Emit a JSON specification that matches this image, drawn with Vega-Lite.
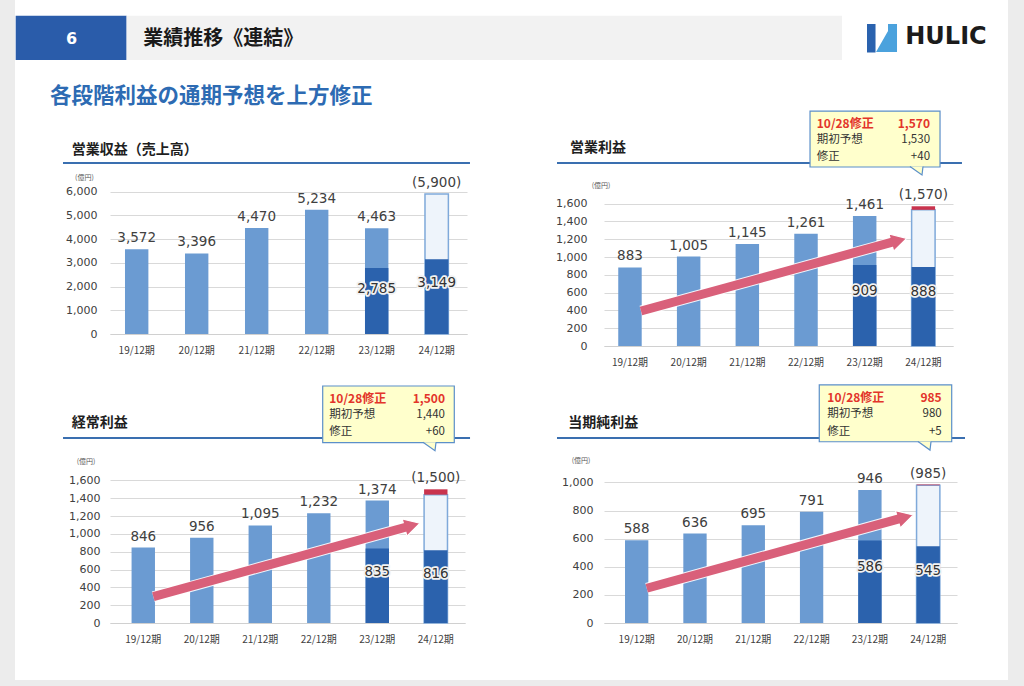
{
  "$schema": "https://vega.github.io/schema/vega-lite/v6.json",
  "background": "white",
  "padding": 0,
  "bounds": "flush",
  "columns": 2,
  "spacing": {"row": 92, "column": 137},
  "datasets": {
    "rev": [
      {"period": "19/12期", "value": 3572},
      {"period": "20/12期", "value": 3396},
      {"period": "21/12期", "value": 4470},
      {"period": "22/12期", "value": 5234},
      {"period": "23/12期", "value": 4463, "h1": 2785},
      {"period": "24/12期", "h1": 3149, "initial": 5900, "revised": 5900}
    ],
    "op": [
      {"period": "19/12期", "value": 883},
      {"period": "20/12期", "value": 1005},
      {"period": "21/12期", "value": 1145},
      {"period": "22/12期", "value": 1261},
      {"period": "23/12期", "value": 1461, "h1": 909},
      {"period": "24/12期", "h1": 888, "initial": 1530, "revised": 1570}
    ],
    "ord": [
      {"period": "19/12期", "value": 846},
      {"period": "20/12期", "value": 956},
      {"period": "21/12期", "value": 1095},
      {"period": "22/12期", "value": 1232},
      {"period": "23/12期", "value": 1374, "h1": 835},
      {"period": "24/12期", "h1": 816, "initial": 1440, "revised": 1500}
    ],
    "net": [
      {"period": "19/12期", "value": 588},
      {"period": "20/12期", "value": 636},
      {"period": "21/12期", "value": 695},
      {"period": "22/12期", "value": 791},
      {"period": "23/12期", "value": 946, "h1": 586},
      {"period": "24/12期", "h1": 545, "initial": 980, "revised": 985}
    ],
    "d1": [
      {"kind": "strip", "u": -1.8487, "u2": -1.5966, "v": 14082, "v2": -14841},
      {"kind": "strip", "u": 15.092, "u2": 15.361, "v": 14082, "v2": -14841},
      {"kind": "strip", "u": -1.8487, "u2": 15.361, "v": -14588, "v2": -14841},
      {"kind": "hbox", "u": -1.585, "u2": 0.279, "v": 13421, "v2": 11553},
      {"kind": "hbar", "u": 0.279, "u2": 12.303, "v": 13421, "v2": 11553},
      {"kind": "num", "u": -0.644, "v": 12440, "text": "6"},
      {"kind": "htitle", "u": 0.56, "v": 12440, "text": "業績推移《連結》"},
      {"kind": "sub", "u": -1.008, "v": 10005, "text": "各段階利益の通期予想を上方修正"},
      {"kind": "logo", "u": 13.366, "v": 12522, "text": "HULIC"},
      {"kind": "icon1", "u": 12.723, "u2": 12.866, "v": 13071, "v2": 11869},
      {"kind": "icon2", "u": 12.975, "v": 12480},
      {"kind": "line", "u": -0.79, "u2": 6.05, "v": 7210},
      {"kind": "title", "u": -0.644, "v": 7758, "text": "営業収益（売上高）"},
      {"kind": "unit", "u": -0.588, "v": 6590, "text": "(億円)"}
    ],
    "d2": [
      {"kind": "line", "u": -0.808, "u2": 6.154, "v": 2056.2},
      {"kind": "title", "u": -0.585, "v": 2225, "text": "営業利益"},
      {"kind": "unit", "u": -0.211, "v": 1801, "text": "(億円)"},
      {"kind": "arrow", "u": 0.636, "v": 393, "u2": 4.972, "v2": 1169},
      {"kind": "head", "u": 5.204, "v": 1210},
      {"kind": "box", "u": 3.542, "u2": 5.777, "v": 2640, "v2": 2011},
      {"kind": "tail", "u": 5.467, "v": 1921},
      {"kind": "lhead", "u": 3.657, "v": 2494, "text": "10/28修正"},
      {"kind": "rhead", "u": 5.605, "v": 2494, "text": "1,570"},
      {"kind": "ltext", "u": 3.657, "v": 2315, "text": "期初予想"},
      {"kind": "rtext", "u": 5.605, "v": 2315, "text": "1,530"},
      {"kind": "ltext", "u": 3.657, "v": 2127, "text": "修正"},
      {"kind": "rtext", "u": 5.605, "v": 2127, "text": "+40"}
    ],
    "d3": [
      {"kind": "line", "u": -0.794, "u2": 6.085, "v": 2075.7},
      {"kind": "title", "u": -0.647, "v": 2247, "text": "経常利益"},
      {"kind": "unit", "u": -0.563, "v": 1810, "text": "(億円)"},
      {"kind": "arrow", "u": 0.732, "v": 295, "u2": 5.011, "v2": 1077},
      {"kind": "head", "u": 5.239, "v": 1119},
      {"kind": "box", "u": 3.595, "u2": 5.819, "v": 2659, "v2": 2023},
      {"kind": "tail", "u": 5.493, "v": 1933},
      {"kind": "lhead", "u": 3.706, "v": 2513, "text": "10/28修正"},
      {"kind": "rhead", "u": 5.662, "v": 2513, "text": "1,500"},
      {"kind": "ltext", "u": 3.706, "v": 2334, "text": "期初予想"},
      {"kind": "rtext", "u": 5.662, "v": 2334, "text": "1,440"},
      {"kind": "ltext", "u": 3.706, "v": 2146, "text": "修正"},
      {"kind": "rtext", "u": 5.662, "v": 2146, "text": "+60"}
    ],
    "d4": [
      {"kind": "line", "u": -0.799, "u2": 6.136, "v": 1315.8},
      {"kind": "title", "u": -0.607, "v": 1420, "text": "当期純利益"},
      {"kind": "unit", "u": -0.549, "v": 1152, "text": "(億円)"},
      {"kind": "arrow", "u": 0.726, "v": 247, "u2": 5.028, "v2": 742},
      {"kind": "head", "u": 5.257, "v": 768},
      {"kind": "box", "u": 3.659, "u2": 5.91, "v": 1693, "v2": 1289},
      {"kind": "tail", "u": 5.541, "v": 1230},
      {"kind": "lhead", "u": 3.796, "v": 1598, "text": "10/28修正"},
      {"kind": "rhead", "u": 5.74, "v": 1598, "text": "985"},
      {"kind": "ltext", "u": 3.796, "v": 1484, "text": "期初予想"},
      {"kind": "rtext", "u": 5.74, "v": 1484, "text": "980"},
      {"kind": "ltext", "u": 3.796, "v": 1361, "text": "修正"},
      {"kind": "rtext", "u": 5.74, "v": 1361, "text": "+5"}
    ]
  },
  "concat": [
    {
      "width": 357, "height": 171,
      "layer": [
        {
          "data": {"name": "rev"},
          "transform": [
            {"calculate": "isValid(datum.value) ? format(datum.value, ',') : '(' + format(datum.revised, ',') + ')'", "as": "toplabel"},
            {"calculate": "isValid(datum.value) ? datum.value : datum.revised", "as": "toppos"},
            {"calculate": "isValid(datum.h1) ? format(datum.h1, ',') : ''", "as": "h1label"},
            {"calculate": "isValid(datum.h1) ? datum.h1 * 0.68 : null", "as": "h1pos"}
          ],
          "encoding": {
            "x": {"field": "period", "type": "ordinal", "sort": null,
              "scale": {"type": "band", "paddingInner": 0.61, "paddingOuter": 0.28, "align": 0.446},
              "axis": {"title": null, "labelAngle": 0, "ticks": false, "domainColor": "#d0d0d0", "labelPadding": 11, "labelFontSize": 10, "labelFont": "Noto Sans CJK JP", "labelColor": "#404040", "grid": false}}
          },
          "layer": [
            {"transform": [{"filter": "isValid(datum.value)"}], "mark": {"type": "bar", "color": "#6b9bd2"},
             "encoding": {"y": {"field": "value", "type": "quantitative", "scale": {"domain": [0, 7210], "nice": false, "zero": true},
               "axis": {"title": null, "values": [0, 1000, 2000, 3000, 4000, 5000, 6000], "tickCount": 50, "format": ",.0f", "labelOverlap": false, "domain": false, "ticks": false, "labelPadding": 13, "labelFontSize": 11, "labelFont": "DejaVu Sans", "labelColor": "#404040", "gridColor": "#d9d9d9"}}}},
            {"transform": [{"filter": "isValid(datum.initial)"}], "mark": {"type": "bar", "fill": "#eef4fb", "stroke": "#7fa9da", "strokeWidth": 1.5},
             "encoding": {"y": {"field": "initial", "type": "quantitative"}}},
            {"transform": [{"filter": "isValid(datum.h1)"}], "mark": {"type": "bar", "color": "#2b62ad"},
             "encoding": {"y": {"field": "h1", "type": "quantitative"}}},
            {"transform": [{"filter": "isValid(datum.revised) && datum.revised > datum.initial"}], "mark": {"type": "bar", "color": "#c9334d"},
             "encoding": {"y": {"field": "initial", "type": "quantitative"}, "y2": {"field": "revised"}}},
            {"mark": {"type": "text", "baseline": "bottom", "dy": -4, "font": "DejaVu Sans", "fontSize": 13.5, "color": "#404040"},
             "encoding": {"y": {"field": "toppos", "type": "quantitative"}, "text": {"field": "toplabel"}}},
            {"transform": [{"filter": "isValid(datum.h1)"}], "mark": {"type": "text", "baseline": "middle", "font": "DejaVu Sans", "fontSize": 13.5, "fill": "#f2f2f2", "stroke": "#f2f2f2", "strokeWidth": 3.5, "strokeJoin": "round"},
             "encoding": {"y": {"field": "h1pos", "type": "quantitative"}, "text": {"field": "h1label"}}},
            {"transform": [{"filter": "isValid(datum.h1)"}], "mark": {"type": "text", "baseline": "middle", "font": "DejaVu Sans", "fontSize": 13.5, "color": "#333333"},
             "encoding": {"y": {"field": "h1pos", "type": "quantitative"}, "text": {"field": "h1label"}}}
          ]
        },
        {
          "data": {"name": "d1"},
          "encoding": {
            "x": {"field": "u", "type": "quantitative", "scale": {"domain": [0, 6], "nice": false, "zero": false}, "axis": null},
            "y": {"field": "v", "type": "quantitative", "scale": {"domain": [0, 7210], "nice": false, "zero": false}, "axis": null}
          },
          "layer": [
            {"transform": [{"filter": "datum.kind == 'strip'"}], "mark": {"type": "rect", "fill": "#ececec"}, "encoding": {"x2": {"field": "u2"}, "y2": {"field": "v2"}}},
            {"transform": [{"filter": "datum.kind == 'hbox'"}], "mark": {"type": "rect", "fill": "#2a5caa"}, "encoding": {"x2": {"field": "u2"}, "y2": {"field": "v2"}}},
            {"transform": [{"filter": "datum.kind == 'hbar'"}], "mark": {"type": "rect", "fill": "#f2f2f2"}, "encoding": {"x2": {"field": "u2"}, "y2": {"field": "v2"}}},
            {"transform": [{"filter": "datum.kind == 'num'"}], "mark": {"type": "text", "align": "center", "baseline": "middle", "font": "DejaVu Sans", "fontWeight": "bold", "fontSize": 16, "color": "#ffffff"}, "encoding": {"text": {"field": "text"}}},
            {"transform": [{"filter": "datum.kind == 'htitle'"}], "mark": {"type": "text", "align": "left", "baseline": "middle", "font": "Noto Sans CJK JP", "fontWeight": "bold", "fontSize": 20, "color": "#1a1a1a"}, "encoding": {"text": {"field": "text"}}},
            {"transform": [{"filter": "datum.kind == 'sub'"}], "mark": {"type": "text", "align": "left", "baseline": "middle", "font": "Noto Sans CJK JP", "fontWeight": "bold", "fontSize": 21.5, "color": "#2d6bb3"}, "encoding": {"text": {"field": "text"}}},
            {"transform": [{"filter": "datum.kind == 'logo'"}], "mark": {"type": "text", "align": "left", "baseline": "middle", "font": "DejaVu Sans", "fontWeight": "bold", "fontSize": 24, "color": "#1b1b1b"}, "encoding": {"text": {"field": "text"}}},
            {"transform": [{"filter": "datum.kind == 'icon1'"}], "mark": {"type": "rect", "fill": "#2a62ae"}, "encoding": {"x2": {"field": "u2"}, "y2": {"field": "v2"}}},
            {"transform": [{"filter": "datum.kind == 'icon2'"}], "mark": {"type": "point", "shape": "M-0.4,0.93L0.4,-0.47L0.4,-0.93L1,-0.93L1,0.93Z", "size": 900, "filled": true, "fill": "#4ba2dd", "strokeWidth": 0, "opacity": 1}},
            {"transform": [{"filter": "datum.kind == 'line'"}], "mark": {"type": "rule", "color": "#3a6fb0", "strokeWidth": 2}, "encoding": {"x2": {"field": "u2"}}},
            {"transform": [{"filter": "datum.kind == 'title'"}], "mark": {"type": "text", "align": "left", "baseline": "middle", "font": "Noto Sans CJK JP", "fontWeight": "bold", "fontSize": 14, "color": "#1f1f1f"}, "encoding": {"text": {"field": "text"}}},
            {"transform": [{"filter": "datum.kind == 'unit'"}], "mark": {"type": "text", "align": "left", "baseline": "middle", "font": "Noto Sans CJK JP", "fontSize": 7, "color": "#595959"}, "encoding": {"text": {"field": "text"}}}
          ]
        }
      ],
      "resolve": {"scale": {"x": "independent", "y": "independent"}}
    },
    {
      "width": 349, "height": 183,
      "layer": [
        {
          "data": {"name": "op"},
          "transform": [
            {"calculate": "isValid(datum.value) ? format(datum.value, ',') : '(' + format(datum.revised, ',') + ')'", "as": "toplabel"},
            {"calculate": "isValid(datum.value) ? datum.value : datum.revised", "as": "toppos"},
            {"calculate": "isValid(datum.h1) ? format(datum.h1, ',') : ''", "as": "h1label"},
            {"calculate": "isValid(datum.h1) ? datum.h1 * 0.68 : null", "as": "h1pos"}
          ],
          "encoding": {
            "x": {"field": "period", "type": "ordinal", "sort": null,
              "scale": {"type": "band", "paddingInner": 0.6, "paddingOuter": 0.274, "align": 0.443},
              "axis": {"title": null, "labelAngle": 0, "ticks": false, "domainColor": "#d0d0d0", "labelPadding": 11, "labelFontSize": 10, "labelFont": "Noto Sans CJK JP", "labelColor": "#404040", "grid": false}}
          },
          "layer": [
            {"transform": [{"filter": "isValid(datum.value)"}], "mark": {"type": "bar", "color": "#6b9bd2"},
             "encoding": {"y": {"field": "value", "type": "quantitative", "scale": {"domain": [0, 2056.2], "nice": false, "zero": true},
               "axis": {"title": null, "values": [0, 200, 400, 600, 800, 1000, 1200, 1400, 1600], "tickCount": 50, "format": ",.0f", "labelOverlap": false, "domain": false, "ticks": false, "labelPadding": 17, "labelFontSize": 11, "labelFont": "DejaVu Sans", "labelColor": "#404040", "gridColor": "#d9d9d9"}}}},
            {"transform": [{"filter": "isValid(datum.initial)"}], "mark": {"type": "bar", "fill": "#eef4fb", "stroke": "#7fa9da", "strokeWidth": 1.5},
             "encoding": {"y": {"field": "initial", "type": "quantitative"}}},
            {"transform": [{"filter": "isValid(datum.h1)"}], "mark": {"type": "bar", "color": "#2b62ad"},
             "encoding": {"y": {"field": "h1", "type": "quantitative"}}},
            {"transform": [{"filter": "isValid(datum.revised) && datum.revised > datum.initial"}], "mark": {"type": "bar", "color": "#c9334d"},
             "encoding": {"y": {"field": "initial", "type": "quantitative"}, "y2": {"field": "revised"}}},
            {"mark": {"type": "text", "baseline": "bottom", "dy": -4, "font": "DejaVu Sans", "fontSize": 13.5, "color": "#404040"},
             "encoding": {"y": {"field": "toppos", "type": "quantitative"}, "text": {"field": "toplabel"}}},
            {"transform": [{"filter": "isValid(datum.h1)"}], "mark": {"type": "text", "baseline": "middle", "font": "DejaVu Sans", "fontSize": 13.5, "fill": "#f2f2f2", "stroke": "#f2f2f2", "strokeWidth": 3.5, "strokeJoin": "round"},
             "encoding": {"y": {"field": "h1pos", "type": "quantitative"}, "text": {"field": "h1label"}}},
            {"transform": [{"filter": "isValid(datum.h1)"}], "mark": {"type": "text", "baseline": "middle", "font": "DejaVu Sans", "fontSize": 13.5, "color": "#333333"},
             "encoding": {"y": {"field": "h1pos", "type": "quantitative"}, "text": {"field": "h1label"}}}
          ]
        },
        {
          "data": {"name": "d2"},
          "encoding": {
            "x": {"field": "u", "type": "quantitative", "scale": {"domain": [0, 6], "nice": false, "zero": false}, "axis": null},
            "y": {"field": "v", "type": "quantitative", "scale": {"domain": [0, 2056.2], "nice": false, "zero": false}, "axis": null}
          },
          "layer": [
            {"transform": [{"filter": "datum.kind == 'line'"}], "mark": {"type": "rule", "color": "#3a6fb0", "strokeWidth": 2}, "encoding": {"x2": {"field": "u2"}}},
            {"transform": [{"filter": "datum.kind == 'title'"}], "mark": {"type": "text", "align": "left", "baseline": "middle", "font": "Noto Sans CJK JP", "fontWeight": "bold", "fontSize": 14, "color": "#1f1f1f"}, "encoding": {"text": {"field": "text"}}},
            {"transform": [{"filter": "datum.kind == 'unit'"}], "mark": {"type": "text", "align": "left", "baseline": "middle", "font": "Noto Sans CJK JP", "fontSize": 7, "color": "#595959"}, "encoding": {"text": {"field": "text"}}},
            {"transform": [{"filter": "datum.kind == 'arrow'"}], "mark": {"type": "rule", "color": "#ffffff", "strokeWidth": 11, "opacity": 0.9}, "encoding": {"x2": {"field": "u2"}, "y2": {"field": "v2"}}},
            {"transform": [{"filter": "datum.kind == 'head'"}], "mark": {"type": "point", "shape": "M0,0L-1,-0.56L-1,0.56Z", "size": 1024, "angle": -15.5, "filled": true, "fill": "#d9607a", "stroke": "#ffffff", "strokeWidth": 1.2, "opacity": 1}},
            {"transform": [{"filter": "datum.kind == 'arrow'"}], "mark": {"type": "rule", "color": "#d9607a", "strokeWidth": 9}, "encoding": {"x2": {"field": "u2"}, "y2": {"field": "v2"}}},
            {"transform": [{"filter": "datum.kind == 'box'"}], "mark": {"type": "rect", "fill": "#ffffcc", "stroke": "#5b8fc9", "strokeWidth": 1.2}, "encoding": {"x2": {"field": "u2"}, "y2": {"field": "v2"}}},
            {"transform": [{"filter": "datum.kind == 'tail'"}], "mark": {"type": "point", "shape": "M-1.2,-0.85L0,0L0.1,-0.85", "size": 400, "filled": true, "fill": "#ffffcc", "stroke": "#5b8fc9", "strokeWidth": 1.2, "opacity": 1}},
            {"transform": [{"filter": "datum.kind == 'lhead'"}], "mark": {"type": "text", "align": "left", "baseline": "middle", "font": "Noto Sans CJK JP", "fontWeight": "bold", "fontSize": 12, "color": "#e3342a"}, "encoding": {"text": {"field": "text"}}},
            {"transform": [{"filter": "datum.kind == 'rhead'"}], "mark": {"type": "text", "align": "right", "baseline": "middle", "font": "Noto Sans CJK JP", "fontWeight": "bold", "fontSize": 12, "color": "#e3342a"}, "encoding": {"text": {"field": "text"}}},
            {"transform": [{"filter": "datum.kind == 'ltext'"}], "mark": {"type": "text", "align": "left", "baseline": "middle", "font": "Noto Sans CJK JP", "fontSize": 11.5, "color": "#333333"}, "encoding": {"text": {"field": "text"}}},
            {"transform": [{"filter": "datum.kind == 'rtext'"}], "mark": {"type": "text", "align": "right", "baseline": "middle", "font": "Noto Sans CJK JP", "fontSize": 11.5, "color": "#333333"}, "encoding": {"text": {"field": "text"}}}
          ]
        }
      ],
      "resolve": {"scale": {"x": "independent", "y": "independent"}}
    },
    {
      "width": 355, "height": 185,
      "layer": [
        {
          "data": {"name": "ord"},
          "transform": [
            {"calculate": "isValid(datum.value) ? format(datum.value, ',') : '(' + format(datum.revised, ',') + ')'", "as": "toplabel"},
            {"calculate": "isValid(datum.value) ? datum.value : datum.revised", "as": "toppos"},
            {"calculate": "isValid(datum.h1) ? format(datum.h1, ',') : ''", "as": "h1label"},
            {"calculate": "isValid(datum.h1) ? datum.h1 * 0.68 : null", "as": "h1pos"}
          ],
          "encoding": {
            "x": {"field": "period", "type": "ordinal", "sort": null,
              "scale": {"type": "band", "paddingInner": 0.6, "paddingOuter": 0.334, "align": 0.552},
              "axis": {"title": null, "labelAngle": 0, "ticks": false, "domainColor": "#d0d0d0", "labelPadding": 11, "labelFontSize": 10, "labelFont": "Noto Sans CJK JP", "labelColor": "#404040", "grid": false}}
          },
          "layer": [
            {"transform": [{"filter": "isValid(datum.value)"}], "mark": {"type": "bar", "color": "#6b9bd2"},
             "encoding": {"y": {"field": "value", "type": "quantitative", "scale": {"domain": [0, 2075.7], "nice": false, "zero": true},
               "axis": {"title": null, "values": [0, 200, 400, 600, 800, 1000, 1200, 1400, 1600], "tickCount": 50, "format": ",.0f", "labelOverlap": false, "domain": false, "ticks": false, "labelPadding": 10, "labelFontSize": 11, "labelFont": "DejaVu Sans", "labelColor": "#404040", "gridColor": "#d9d9d9"}}}},
            {"transform": [{"filter": "isValid(datum.initial)"}], "mark": {"type": "bar", "fill": "#eef4fb", "stroke": "#7fa9da", "strokeWidth": 1.5},
             "encoding": {"y": {"field": "initial", "type": "quantitative"}}},
            {"transform": [{"filter": "isValid(datum.h1)"}], "mark": {"type": "bar", "color": "#2b62ad"},
             "encoding": {"y": {"field": "h1", "type": "quantitative"}}},
            {"transform": [{"filter": "isValid(datum.revised) && datum.revised > datum.initial"}], "mark": {"type": "bar", "color": "#c9334d"},
             "encoding": {"y": {"field": "initial", "type": "quantitative"}, "y2": {"field": "revised"}}},
            {"mark": {"type": "text", "baseline": "bottom", "dy": -4, "font": "DejaVu Sans", "fontSize": 13.5, "color": "#404040"},
             "encoding": {"y": {"field": "toppos", "type": "quantitative"}, "text": {"field": "toplabel"}}},
            {"transform": [{"filter": "isValid(datum.h1)"}], "mark": {"type": "text", "baseline": "middle", "font": "DejaVu Sans", "fontSize": 13.5, "fill": "#f2f2f2", "stroke": "#f2f2f2", "strokeWidth": 3.5, "strokeJoin": "round"},
             "encoding": {"y": {"field": "h1pos", "type": "quantitative"}, "text": {"field": "h1label"}}},
            {"transform": [{"filter": "isValid(datum.h1)"}], "mark": {"type": "text", "baseline": "middle", "font": "DejaVu Sans", "fontSize": 13.5, "color": "#333333"},
             "encoding": {"y": {"field": "h1pos", "type": "quantitative"}, "text": {"field": "h1label"}}}
          ]
        },
        {
          "data": {"name": "d3"},
          "encoding": {
            "x": {"field": "u", "type": "quantitative", "scale": {"domain": [0, 6], "nice": false, "zero": false}, "axis": null},
            "y": {"field": "v", "type": "quantitative", "scale": {"domain": [0, 2075.7], "nice": false, "zero": false}, "axis": null}
          },
          "layer": [
            {"transform": [{"filter": "datum.kind == 'line'"}], "mark": {"type": "rule", "color": "#3a6fb0", "strokeWidth": 2}, "encoding": {"x2": {"field": "u2"}}},
            {"transform": [{"filter": "datum.kind == 'title'"}], "mark": {"type": "text", "align": "left", "baseline": "middle", "font": "Noto Sans CJK JP", "fontWeight": "bold", "fontSize": 14, "color": "#1f1f1f"}, "encoding": {"text": {"field": "text"}}},
            {"transform": [{"filter": "datum.kind == 'unit'"}], "mark": {"type": "text", "align": "left", "baseline": "middle", "font": "Noto Sans CJK JP", "fontSize": 7, "color": "#595959"}, "encoding": {"text": {"field": "text"}}},
            {"transform": [{"filter": "datum.kind == 'arrow'"}], "mark": {"type": "rule", "color": "#ffffff", "strokeWidth": 11, "opacity": 0.9}, "encoding": {"x2": {"field": "u2"}, "y2": {"field": "v2"}}},
            {"transform": [{"filter": "datum.kind == 'head'"}], "mark": {"type": "point", "shape": "M0,0L-1,-0.56L-1,0.56Z", "size": 1024, "angle": -15.5, "filled": true, "fill": "#d9607a", "stroke": "#ffffff", "strokeWidth": 1.2, "opacity": 1}},
            {"transform": [{"filter": "datum.kind == 'arrow'"}], "mark": {"type": "rule", "color": "#d9607a", "strokeWidth": 9}, "encoding": {"x2": {"field": "u2"}, "y2": {"field": "v2"}}},
            {"transform": [{"filter": "datum.kind == 'box'"}], "mark": {"type": "rect", "fill": "#ffffcc", "stroke": "#5b8fc9", "strokeWidth": 1.2}, "encoding": {"x2": {"field": "u2"}, "y2": {"field": "v2"}}},
            {"transform": [{"filter": "datum.kind == 'tail'"}], "mark": {"type": "point", "shape": "M-1.2,-0.85L0,0L0.1,-0.85", "size": 400, "filled": true, "fill": "#ffffcc", "stroke": "#5b8fc9", "strokeWidth": 1.2, "opacity": 1}},
            {"transform": [{"filter": "datum.kind == 'lhead'"}], "mark": {"type": "text", "align": "left", "baseline": "middle", "font": "Noto Sans CJK JP", "fontWeight": "bold", "fontSize": 12, "color": "#e3342a"}, "encoding": {"text": {"field": "text"}}},
            {"transform": [{"filter": "datum.kind == 'rhead'"}], "mark": {"type": "text", "align": "right", "baseline": "middle", "font": "Noto Sans CJK JP", "fontWeight": "bold", "fontSize": 12, "color": "#e3342a"}, "encoding": {"text": {"field": "text"}}},
            {"transform": [{"filter": "datum.kind == 'ltext'"}], "mark": {"type": "text", "align": "left", "baseline": "middle", "font": "Noto Sans CJK JP", "fontSize": 11.5, "color": "#333333"}, "encoding": {"text": {"field": "text"}}},
            {"transform": [{"filter": "datum.kind == 'rtext'"}], "mark": {"type": "text", "align": "right", "baseline": "middle", "font": "Noto Sans CJK JP", "fontSize": 11.5, "color": "#333333"}, "encoding": {"text": {"field": "text"}}}
          ]
        }
      ],
      "resolve": {"scale": {"x": "independent", "y": "independent"}}
    },
    {
      "width": 353, "height": 185,
      "layer": [
        {
          "data": {"name": "net"},
          "transform": [
            {"calculate": "isValid(datum.value) ? format(datum.value, ',') : '(' + format(datum.revised, ',') + ')'", "as": "toplabel"},
            {"calculate": "isValid(datum.value) ? datum.value : datum.revised", "as": "toppos"},
            {"calculate": "isValid(datum.h1) ? format(datum.h1, ',') : ''", "as": "h1label"},
            {"calculate": "isValid(datum.h1) ? datum.h1 * 0.68 : null", "as": "h1pos"}
          ],
          "encoding": {
            "x": {"field": "period", "type": "ordinal", "sort": null,
              "scale": {"type": "band", "paddingInner": 0.6, "paddingOuter": 0.327, "align": 0.551},
              "axis": {"title": null, "labelAngle": 0, "ticks": false, "domainColor": "#d0d0d0", "labelPadding": 11, "labelFontSize": 10, "labelFont": "Noto Sans CJK JP", "labelColor": "#404040", "grid": false}}
          },
          "layer": [
            {"transform": [{"filter": "isValid(datum.value)"}], "mark": {"type": "bar", "color": "#6b9bd2"},
             "encoding": {"y": {"field": "value", "type": "quantitative", "scale": {"domain": [0, 1315.8], "nice": false, "zero": true},
               "axis": {"title": null, "values": [0, 200, 400, 600, 800, 1000], "tickCount": 50, "format": ",.0f", "labelOverlap": false, "domain": false, "ticks": false, "labelPadding": 11, "labelFontSize": 11, "labelFont": "DejaVu Sans", "labelColor": "#404040", "gridColor": "#d9d9d9"}}}},
            {"transform": [{"filter": "isValid(datum.initial)"}], "mark": {"type": "bar", "fill": "#eef4fb", "stroke": "#7fa9da", "strokeWidth": 1.5},
             "encoding": {"y": {"field": "initial", "type": "quantitative"}}},
            {"transform": [{"filter": "isValid(datum.h1)"}], "mark": {"type": "bar", "color": "#2b62ad"},
             "encoding": {"y": {"field": "h1", "type": "quantitative"}}},
            {"transform": [{"filter": "isValid(datum.revised) && datum.revised > datum.initial"}], "mark": {"type": "bar", "color": "#c9334d"},
             "encoding": {"y": {"field": "initial", "type": "quantitative"}, "y2": {"field": "revised"}}},
            {"mark": {"type": "text", "baseline": "bottom", "dy": -4, "font": "DejaVu Sans", "fontSize": 13.5, "color": "#404040"},
             "encoding": {"y": {"field": "toppos", "type": "quantitative"}, "text": {"field": "toplabel"}}},
            {"transform": [{"filter": "isValid(datum.h1)"}], "mark": {"type": "text", "baseline": "middle", "font": "DejaVu Sans", "fontSize": 13.5, "fill": "#f2f2f2", "stroke": "#f2f2f2", "strokeWidth": 3.5, "strokeJoin": "round"},
             "encoding": {"y": {"field": "h1pos", "type": "quantitative"}, "text": {"field": "h1label"}}},
            {"transform": [{"filter": "isValid(datum.h1)"}], "mark": {"type": "text", "baseline": "middle", "font": "DejaVu Sans", "fontSize": 13.5, "color": "#333333"},
             "encoding": {"y": {"field": "h1pos", "type": "quantitative"}, "text": {"field": "h1label"}}}
          ]
        },
        {
          "data": {"name": "d4"},
          "encoding": {
            "x": {"field": "u", "type": "quantitative", "scale": {"domain": [0, 6], "nice": false, "zero": false}, "axis": null},
            "y": {"field": "v", "type": "quantitative", "scale": {"domain": [0, 1315.8], "nice": false, "zero": false}, "axis": null}
          },
          "layer": [
            {"transform": [{"filter": "datum.kind == 'line'"}], "mark": {"type": "rule", "color": "#3a6fb0", "strokeWidth": 2}, "encoding": {"x2": {"field": "u2"}}},
            {"transform": [{"filter": "datum.kind == 'title'"}], "mark": {"type": "text", "align": "left", "baseline": "middle", "font": "Noto Sans CJK JP", "fontWeight": "bold", "fontSize": 14, "color": "#1f1f1f"}, "encoding": {"text": {"field": "text"}}},
            {"transform": [{"filter": "datum.kind == 'unit'"}], "mark": {"type": "text", "align": "left", "baseline": "middle", "font": "Noto Sans CJK JP", "fontSize": 7, "color": "#595959"}, "encoding": {"text": {"field": "text"}}},
            {"transform": [{"filter": "datum.kind == 'arrow'"}], "mark": {"type": "rule", "color": "#ffffff", "strokeWidth": 11, "opacity": 0.9}, "encoding": {"x2": {"field": "u2"}, "y2": {"field": "v2"}}},
            {"transform": [{"filter": "datum.kind == 'head'"}], "mark": {"type": "point", "shape": "M0,0L-1,-0.56L-1,0.56Z", "size": 1024, "angle": -15.5, "filled": true, "fill": "#d9607a", "stroke": "#ffffff", "strokeWidth": 1.2, "opacity": 1}},
            {"transform": [{"filter": "datum.kind == 'arrow'"}], "mark": {"type": "rule", "color": "#d9607a", "strokeWidth": 9}, "encoding": {"x2": {"field": "u2"}, "y2": {"field": "v2"}}},
            {"transform": [{"filter": "datum.kind == 'box'"}], "mark": {"type": "rect", "fill": "#ffffcc", "stroke": "#5b8fc9", "strokeWidth": 1.2}, "encoding": {"x2": {"field": "u2"}, "y2": {"field": "v2"}}},
            {"transform": [{"filter": "datum.kind == 'tail'"}], "mark": {"type": "point", "shape": "M-1.2,-0.85L0,0L0.1,-0.85", "size": 400, "filled": true, "fill": "#ffffcc", "stroke": "#5b8fc9", "strokeWidth": 1.2, "opacity": 1}},
            {"transform": [{"filter": "datum.kind == 'lhead'"}], "mark": {"type": "text", "align": "left", "baseline": "middle", "font": "Noto Sans CJK JP", "fontWeight": "bold", "fontSize": 12, "color": "#e3342a"}, "encoding": {"text": {"field": "text"}}},
            {"transform": [{"filter": "datum.kind == 'rhead'"}], "mark": {"type": "text", "align": "right", "baseline": "middle", "font": "Noto Sans CJK JP", "fontWeight": "bold", "fontSize": 12, "color": "#e3342a"}, "encoding": {"text": {"field": "text"}}},
            {"transform": [{"filter": "datum.kind == 'ltext'"}], "mark": {"type": "text", "align": "left", "baseline": "middle", "font": "Noto Sans CJK JP", "fontSize": 11.5, "color": "#333333"}, "encoding": {"text": {"field": "text"}}},
            {"transform": [{"filter": "datum.kind == 'rtext'"}], "mark": {"type": "text", "align": "right", "baseline": "middle", "font": "Noto Sans CJK JP", "fontSize": 11.5, "color": "#333333"}, "encoding": {"text": {"field": "text"}}}
          ]
        }
      ],
      "resolve": {"scale": {"x": "independent", "y": "independent"}}
    }
  ],
  "config": {"view": {"stroke": null}}
}
